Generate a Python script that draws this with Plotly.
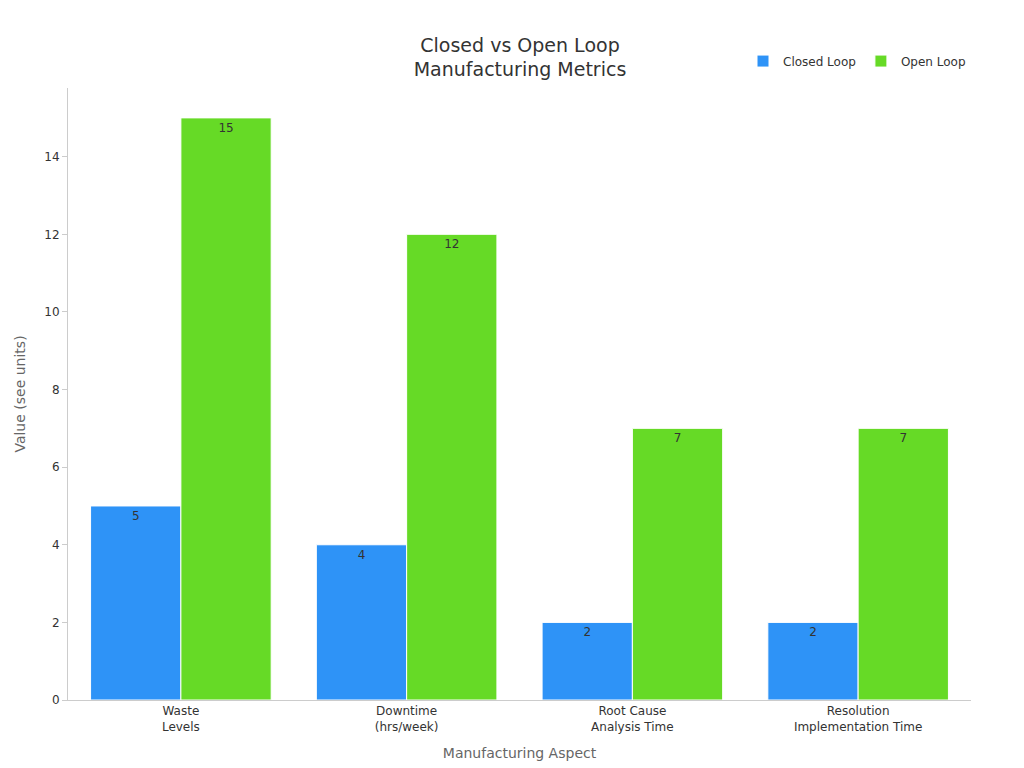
import plotly.graph_objects as go

categories = ["Waste<br>Levels", "Downtime<br>(hrs/week)", "Root Cause<br>Analysis Time", "Resolution<br>Implementation Time"]
closed_loop = [5, 4, 2, 2]
open_loop = [15, 12, 7, 7]

fig = go.Figure()
fig.add_trace(go.Bar(name="Closed Loop", x=categories, y=closed_loop, marker_color="#2E93F7",
                     marker_line_color="white", marker_line_width=1,
                     text=closed_loop, textposition="inside", insidetextanchor="end",
                     textfont=dict(color="#333333", size=12)))
fig.add_trace(go.Bar(name="Open Loop", x=categories, y=open_loop, marker_color="#66DA26",
                     marker_line_color="white", marker_line_width=1,
                     text=open_loop, textposition="inside", insidetextanchor="end",
                     textfont=dict(color="#333333", size=12)))

fig.update_layout(
    width=1024, height=768,
    font=dict(family="DejaVu Sans", size=12, color="#333333"),
    title=dict(text="Closed vs Open Loop<br>Manufacturing Metrics", x=0.5, xanchor="center",
               y=0.943, yanchor="middle", font=dict(size=19, color="#333333")),
    barmode="group", bargap=0.2, bargroupgap=0,
    plot_bgcolor="white", paper_bgcolor="white",
    margin=dict(l=60, r=61, t=80, b=76),
    legend=dict(orientation="h", x=1, xanchor="right", y=1.044, yanchor="middle", font=dict(size=12)),
    xaxis=dict(title=dict(text="Manufacturing Aspect", font=dict(color="#666666", size=14)),
               automargin=False, showline=True, linecolor="#cccccc", ticks="", tickfont=dict(size=12)),
    yaxis=dict(title=dict(text="Value (see units)", font=dict(color="#666666", size=14)),
               automargin=False, range=[0, 15.77], dtick=2, showgrid=False, showline=True,
               linecolor="#cccccc", ticks="outside", tickcolor="#cccccc", ticklen=5, zeroline=False),
)
fig.write_html("out.html")
